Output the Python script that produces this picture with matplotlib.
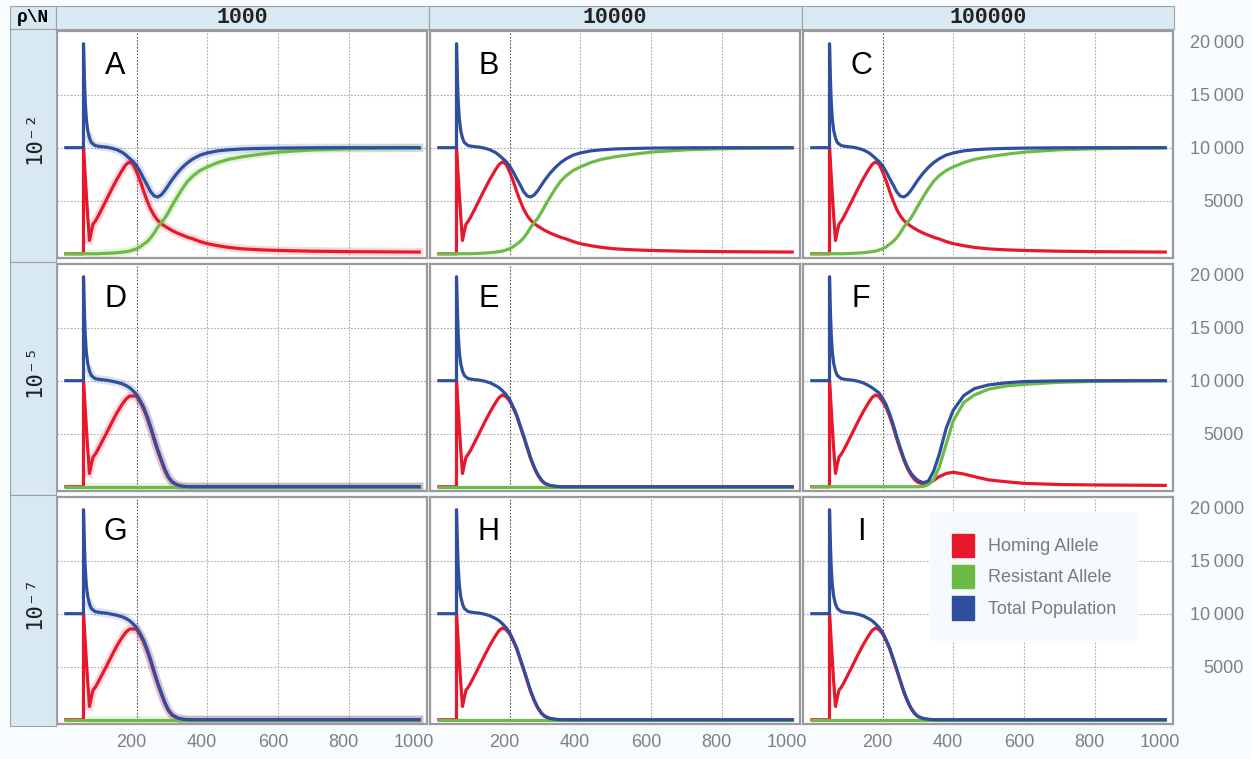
import matplotlib.pyplot as plt
from matplotlib.patches import Rectangle, Patch
from matplotlib.transforms import ScaledTranslation

# ---- data ----
t = [0, 50, 50, 52, 55, 58, 62, 67, 72, 77, 83, 90, 100, 115, 130, 145, 160, 170, 180, 190,
     200, 210, 220, 230, 240, 250, 260, 270, 280, 290, 300, 315, 330, 345, 360, 380, 400,
     430, 460, 500, 550, 600, 700, 800, 900, 1000]

# row 1 (rho = 1e-2): population recovers through resistance
blue_rec = [10000, 10000, 19800, 17000, 14300, 12700, 11600, 10900, 10500, 10350, 10200, 10150,
            10100, 10050, 9950, 9800, 9550, 9300, 9000, 8700, 8300, 7750, 7100, 6500, 5850, 5450,
            5350, 5550, 5950, 6450, 6950, 7600, 8150, 8600, 8950, 9300, 9500, 9700, 9800, 9880,
            9930, 9960, 9990, 10000, 10000, 10000]
red_rec = [0, 0, 10000, 8900, 7300, 5600, 3500, 1250, 2100, 2800, 3050, 3450, 4100, 5100, 6100,
           7050, 7900, 8400, 8650, 8450, 7750, 6900, 5900, 5000, 4200, 3600, 3150, 2850, 2600,
           2400, 2200, 1950, 1750, 1550, 1400, 1150, 950, 760, 600, 460, 370, 310, 240, 200, 180, 160]
green_rec = [0, 0, 0, 0, 0, 0, 0, 0, 0, 0, 0, 0, 20, 40, 60, 100, 150, 200, 250, 350, 470, 650,
             900, 1150, 1500, 1950, 2500, 2950, 3350, 3900, 4500, 5350, 6150, 6850, 7350, 7850,
             8180, 8600, 8900, 9150, 9380, 9580, 9800, 9900, 9950, 9980]

# rows 2-3, N >= 10000: population crashes
blue_crash = [10000, 10000, 19800, 17000, 14300, 12700, 11600, 10900, 10500, 10350, 10200, 10150,
              10100, 10050, 9950, 9800, 9550, 9350, 9050, 8700, 8250, 7550, 6800, 5800, 4800, 3750,
              2700, 1850, 1150, 650, 330, 120, 40, 10, 0, 0, 0, 0, 0, 0, 0, 0, 0, 0, 0, 0]
red_crash = [0, 0, 10000, 8900, 7300, 5600, 3500, 1250, 2100, 2800, 3050, 3450, 4100, 5100, 6100,
             7050, 7900, 8400, 8650, 8500, 8100, 7450, 6700, 5700, 4700, 3650, 2620, 1780, 1100,
             610, 300, 100, 30, 5, 0, 0, 0, 0, 0, 0, 0, 0, 0, 0, 0, 0]

# rows 2-3, N = 1000: crash comes a little later
blue_crash_small = [10000, 10000, 19800, 17000, 14300, 12700, 11600, 10900, 10500, 10350, 10200,
                    10150, 10100, 10050, 9950, 9850, 9700, 9550, 9350, 9050, 8700, 8150, 7500,
                    6650, 5650, 4550, 3500, 2550, 1650, 950, 500, 180, 50, 10, 0, 0, 0, 0, 0, 0,
                    0, 0, 0, 0, 0, 0]
red_crash_small = [0, 0, 10000, 8900, 7300, 5600, 3500, 1250, 2100, 2800, 3050, 3450, 4100, 5050,
                   6050, 7000, 7800, 8250, 8550, 8550, 8550, 8000, 7350, 6500, 5500, 4400, 3380,
                   2450, 1570, 880, 450, 150, 35, 5, 0, 0, 0, 0, 0, 0, 0, 0, 0, 0, 0, 0]

green_zero = [0] * len(t)

# panel F (rho = 1e-5, N = 100000): near crash then recovery
blue_f = [10000, 10000, 19800, 17000, 14300, 12700, 11600, 10900, 10500, 10350, 10200, 10150,
          10100, 10050, 9950, 9800, 9550, 9350, 9100, 8850, 8350, 7750, 6900, 5900, 4750, 3700,
          2700, 1900, 1300, 900, 600, 380, 550, 1500, 3000, 5500, 7200, 8600, 9250, 9600, 9800,
          9920, 9980, 10000, 10000, 10000]
red_f = [0, 0, 10000, 8900, 7300, 5600, 3500, 1250, 2100, 2800, 3050, 3450, 4100, 5100, 6100,
         7050, 7900, 8400, 8650, 8500, 8050, 7500, 6650, 5650, 4550, 3500, 2550, 1750, 1150, 700,
         420, 260, 330, 600, 950, 1250, 1370, 1200, 950, 650, 470, 320, 210, 170, 150, 130]
green_f = [0, 0, 0, 0, 0, 0, 0, 0, 0, 0, 0, 0, 0, 0, 0, 0, 0, 0, 0, 0, 0, 0, 0, 0, 0, 0, 0, 0,
           0, 0, 0, 30, 200, 700, 1800, 4000, 6200, 7950, 8650, 9200, 9500, 9650, 9850, 9930,
           9970, 9990]

col_labels = ['1000', '10000', '100000']
row_labels = ['10\u207b\u00b2', '10\u207b\u2075', '10\u207b\u2077']
panel_letters = [['A', 'B', 'C'], ['D', 'E', 'F'], ['G', 'H', 'I']]
panel_data = [
    [(red_rec, green_rec, blue_rec)] * 3,
    [(red_crash_small, green_zero, blue_crash_small), (red_crash, green_zero, blue_crash),
     (red_f, green_f, blue_f)],
    [(red_crash_small, green_zero, blue_crash_small), (red_crash, green_zero, blue_crash),
     (red_crash, green_zero, blue_crash)],
]
series_names = ['Homing Allele', 'Resistant Allele', 'Total Population']
colors = ['#e8182c', '#6cbb45', '#2f4f9e']
x_ticks = [200, 400, 600, 800, 1000]
y_ticks = [5000, 10000, 15000, 20000]
y_tick_labels = ['5000', '10\u2009000', '15\u2009000', '20\u2009000']

# ---- layout (pixel boxes) ----
W, H = 1251, 759
fig = plt.figure(figsize=(W / 100, H / 100), dpi=100)
fig.patch.set_facecolor('#f9fcfe')
sans = ['Liberation Sans', 'DejaVu Sans']


def pbox(x0, y0, x1, y1):
    return [x0 / W, 1 - y1 / H, (x1 - x0) / W, (y1 - y0) / H]


def cell(x0, y0, x1, y1, fc='#d9e9f4'):
    l, b, w, h = pbox(x0, y0, x1, y1)
    fig.add_artist(Rectangle((l, b), w, h, transform=fig.transFigure,
                             facecolor=fc, edgecolor='#a0a0a0', lw=0.8))


# header row and left strip
cell(10, 6, 56, 29)
fig.text(33 / W, 1 - 17.5 / H, '\u03c1\\N', ha='center', va='center', fontsize=13,
         fontweight='bold', family=['Liberation Mono', 'DejaVu Sans Mono'])
col_edges = [56, 428.5, 801.5, 1174]
for c in range(3):
    cell(col_edges[c], 6, col_edges[c + 1], 29)
    fig.text((col_edges[c] + col_edges[c + 1]) / 2 / W, 1 - 17.5 / H, col_labels[c],
             ha='center', va='center', fontsize=15.5, fontweight='bold', color='#222222',
             family=['Liberation Mono', 'DejaVu Sans Mono'])
row_edges = [29, 262, 494.5, 726]
for r in range(3):
    cell(10, row_edges[r], 56, row_edges[r + 1])
    fig.text(34 / W, 1 - ((row_edges[r] + row_edges[r + 1]) / 2 - 8) / H, row_labels[r],
             ha='center', va='center', rotation=90, fontsize=16, color='#222222',
             family=['DejaVu Sans Mono'])

tops = [31, 264, 497]
lefts = [57, 430, 803]
for r in range(3):
    for c in range(3):
        ax = fig.add_axes(pbox(lefts[c], tops[r], lefts[c] + 370, tops[r] + 227))
        ax.set_facecolor('white')
        ax.set_xlim(-25, 1022)
        ax.set_ylim(-400, 21000)
        for s in ax.spines.values():
            s.set_color('#9a9a9a')
            s.set_linewidth(1.6)
        for xv in x_ticks[:-1]:
            ax.axvline(xv, color='#555555' if xv == 200 else '#aaaaaa', ls=(0, (1.5, 1.5)),
                       lw=0.8, zorder=0)
        for yv in y_ticks[:-1]:
            ax.axhline(yv, color='#aaaaaa', ls=(0, (1.5, 1.5)), lw=0.8, zorder=0)

        # light confidence halo, only visible for the small populations
        if c == 0:
            for vals, col in zip(panel_data[r][c], colors):
                ax.plot(t[7:], vals[7:], color=col, lw=6, alpha=0.16,
                        solid_joinstyle='round', zorder=1)
        for vals, col in zip(panel_data[r][c], colors):
            ax.plot(t, vals, color=col, lw=2.3, solid_joinstyle='round', zorder=2)

        ax.text(140, 17700, panel_letters[r][c], fontsize=22, ha='center', va='center',
                family=sans, color='black')

        ax.set_xticks(x_ticks)
        ax.set_yticks(y_ticks)
        ax.tick_params(length=0, labelleft=False, left=False, labelbottom=(r == 2),
                       labelright=(c == 2), labelsize=13, labelcolor='#7f7f7f')
        if r == 2:
            ax.set_xticklabels([str(v) for v in x_ticks], family=sans)
            ax.tick_params(axis='x', pad=7)
            for lab in ax.get_xticklabels():
                lab.set_transform(lab.get_transform() +
                                  ScaledTranslation(-5 / 100, 0, fig.dpi_scale_trans))
        if c == 2:
            ax.yaxis.set_ticks_position('right')
            ax.tick_params(axis='y', length=0, pad=51)
            ax.set_yticklabels(y_tick_labels, family=sans, ha='right')

        if r == 2 and c == 2:
            handles = [Patch(facecolor=col, edgecolor=col) for col in colors]
            leg = ax.legend(handles, series_names, loc='upper left',
                            bbox_to_anchor=(0.343, 0.934), fontsize=13, frameon=True,
                            facecolor='#f5fafd', edgecolor='none', framealpha=1,
                            handlelength=1.25, handleheight=1.6, labelspacing=0.45,
                            borderpad=1.2, handletextpad=0.75, borderaxespad=0)
            leg.get_frame().set_boxstyle('square', pad=0)
            for txt in leg.get_texts():
                txt.set_color('#7a7a7a')
                txt.set_family(sans)

fig.savefig('out.png', dpi=100, facecolor=fig.get_facecolor())
